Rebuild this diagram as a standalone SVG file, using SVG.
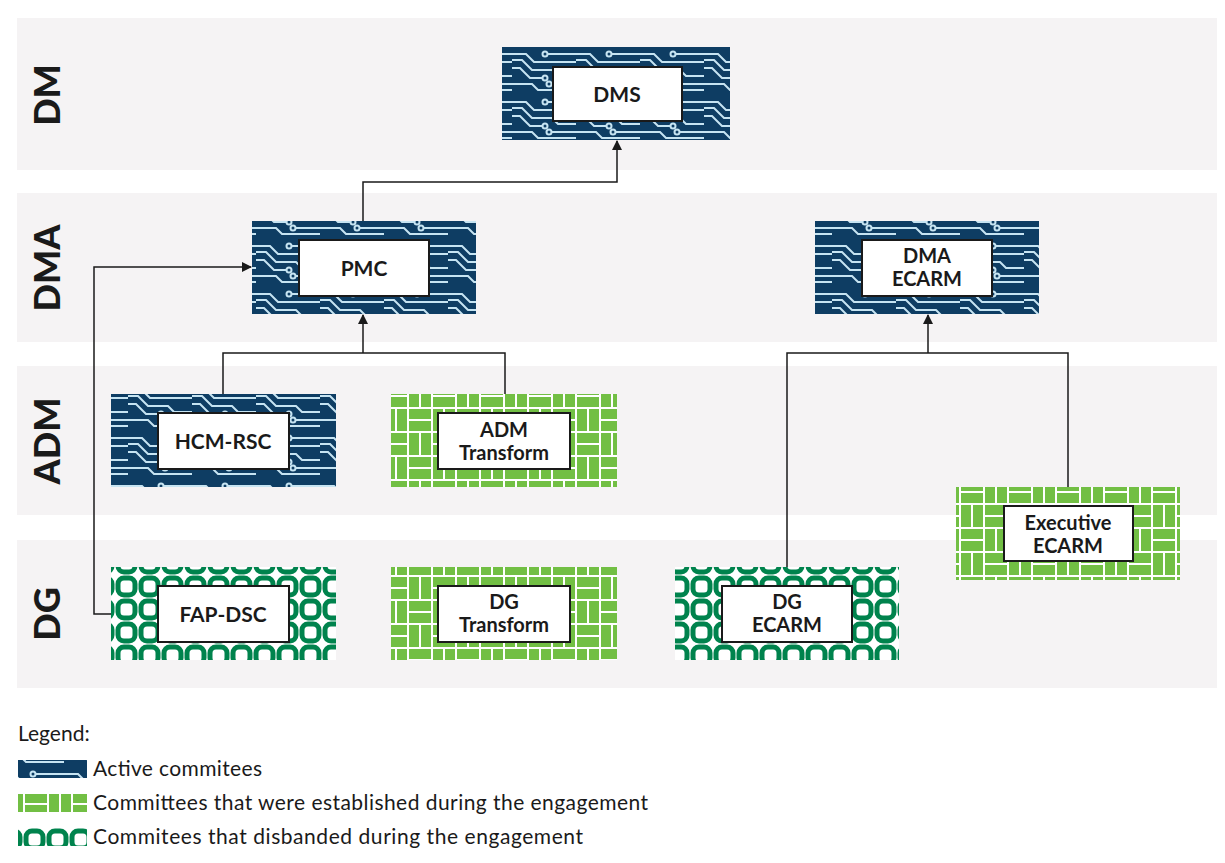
<svg xmlns="http://www.w3.org/2000/svg" width="1225" height="863" viewBox="0 0 1225 863">
<style>
.band{fill:#f5f3f4}
.lane{font-family:Lato,"Open Sans",sans-serif;font-weight:900;font-size:36px;fill:#1a1a1a}
.box{fill:#fff;stroke:#1a1a1a;stroke-width:2}
.lbl{font-family:Lato,"Open Sans",sans-serif;font-weight:700;font-size:21px;fill:#1a1a1a;text-anchor:middle}
.l2{font-size:20px}
.leg{font-family:Lato,"Open Sans",sans-serif;font-size:21px;fill:#1a1a1a}
.con{fill:none;stroke:#1a1a1a;stroke-width:1.5}
.act{fill:url(#circ)}.new{fill:url(#brick)}.old{fill:url(#ring)}
</style>
<defs>
<pattern id="circ" width="64" height="48" patternUnits="userSpaceOnUse">
<rect width="64" height="48" fill="#0e3d63"/>
<g fill="none" stroke="#c6e4f2" stroke-width="2">
<polyline points="0,6 14,6 22,14 64,14"/>
<polyline points="0,12 10,12 20,22 40,22 46,28 64,28"/>
<polyline points="0,20 8,20 18,30 30,30"/>
<polyline points="0,36 20,36 26,42 64,42"/>
<polyline points="36,6 64,6"/>
<polyline points="40,36 64,36"/>
<circle cx="33" cy="30" r="2.5"/>
<circle cx="33" cy="6" r="2.5"/>
<circle cx="37" cy="36" r="2.5"/>
</g>
</pattern>
<pattern id="brick" width="48" height="48" patternUnits="userSpaceOnUse">
<rect width="48" height="48" fill="#fff"/>
<g fill="#72bf44">
<rect x="1" y="1" width="22" height="10"/><rect x="1" y="13" width="22" height="10"/>
<rect x="25" y="1" width="10" height="22"/><rect x="37" y="1" width="10" height="22"/>
<rect x="1" y="25" width="10" height="22"/><rect x="13" y="25" width="10" height="22"/>
<rect x="25" y="25" width="22" height="10"/><rect x="25" y="37" width="22" height="10"/>
</g>
</pattern>
<pattern id="ring" width="23" height="23" patternUnits="userSpaceOnUse">
<rect width="23" height="23" fill="#fff"/>
<rect x="3" y="3" width="17" height="17" rx="6" fill="none" stroke="#00834d" stroke-width="5"/>
</pattern>
<marker id="ar" markerWidth="10" markerHeight="10" refX="9" refY="5" orient="auto" markerUnits="userSpaceOnUse"><path d="M0,0L10,5L0,10z" fill="#1a1a1a"/></marker>
</defs>
<rect width="1225" height="863" fill="#fff"/>
<g id="lanes">
<rect class="band" x="17" y="18" width="1200" height="152"/>
<rect class="band" x="17" y="193" width="1200" height="149"/>
<rect class="band" x="17" y="366" width="1200" height="149"/>
<rect class="band" x="17" y="540" width="1200" height="148"/>
<text class="lane" transform="translate(60,95) rotate(-90)" text-anchor="middle">DM</text>
<text class="lane" transform="translate(60,268) rotate(-90)" text-anchor="middle">DMA</text>
<text class="lane" transform="translate(60,441) rotate(-90)" text-anchor="middle">ADM</text>
<text class="lane" transform="translate(60,614) rotate(-90)" text-anchor="middle">DG</text>
</g>
<g id="connectors">
<polyline class="con" points="363,221 363,182 617,182 617,141" marker-end="url(#ar)"/>
<polyline class="con" points="223,394 223,353 505,353 505,394"/>
<line class="con" x1="363" y1="353" x2="363" y2="315" marker-end="url(#ar)"/>
<polyline class="con" points="787,567 787,353 1068,353 1068,487"/>
<line class="con" x1="928" y1="353" x2="928" y2="315" marker-end="url(#ar)"/>
<polyline class="con" points="111,614 94,614 94,267 251,267" marker-end="url(#ar)"/>
</g>
<g id="dms"><rect class="act" x="502" y="47" width="228" height="93"/><rect class="box" x="553" y="67" width="129" height="54"/><text class="lbl" x="617" y="102">DMS</text></g>
<g id="pmc"><rect class="act" x="252" y="221" width="224" height="93"/><rect class="box" x="299" y="240" width="130" height="56"/><text class="lbl" x="364" y="276">PMC</text></g>
<g id="dma-ecarm"><rect class="act" x="815" y="221" width="224" height="93"/><rect class="box" x="862" y="240" width="130" height="56"/><text class="lbl l2" x="927" y="263">DMA</text><text class="lbl l2" x="927" y="286">ECARM</text></g>
<g id="hcm-rsc"><rect class="act" x="111" y="394" width="225" height="93"/><rect class="box" x="158" y="413" width="131" height="56"/><text class="lbl" x="223" y="449">HCM-RSC</text></g>
<g id="adm-transform"><rect class="new" x="391" y="394" width="226" height="93"/><rect class="box" x="438" y="413" width="132" height="56"/><text class="lbl l2" x="504" y="437">ADM</text><text class="lbl l2" x="504" y="460">Transform</text></g>
<g id="exec-ecarm"><rect class="new" x="956" y="487" width="224" height="93"/><rect class="box" x="1004" y="506" width="129" height="55"/><text class="lbl l2" x="1068" y="530">Executive</text><text class="lbl l2" x="1068" y="553">ECARM</text></g>
<g id="fap-dsc"><rect class="old" x="111" y="567" width="225" height="93"/><rect class="box" x="158" y="586" width="131" height="56"/><text class="lbl" x="223" y="622">FAP-DSC</text></g>
<g id="dg-transform"><rect class="new" x="391" y="567" width="226" height="93"/><rect class="box" x="438" y="586" width="132" height="56"/><text class="lbl l2" x="504" y="609">DG</text><text class="lbl l2" x="504" y="632">Transform</text></g>
<g id="dg-ecarm"><rect class="old" x="675" y="567" width="224" height="93"/><rect class="box" x="722" y="586" width="130" height="56"/><text class="lbl l2" x="787" y="609">DG</text><text class="lbl l2" x="787" y="632">ECARM</text></g>
<g id="legend">
<text class="leg" x="18" y="741">Legend:</text>
<rect class="act" x="18" y="760" width="69" height="18"/><text class="leg" x="93" y="776" textLength="169">Active commitees</text>
<rect class="new" x="18" y="794" width="69" height="18"/><text class="leg" x="93" y="810" textLength="555">Committees that were established during the engagement</text>
<rect class="old" x="18" y="828" width="69" height="18"/><text class="leg" x="93" y="844" textLength="490">Commitees that disbanded during the engagement</text>
</g>
</svg>
